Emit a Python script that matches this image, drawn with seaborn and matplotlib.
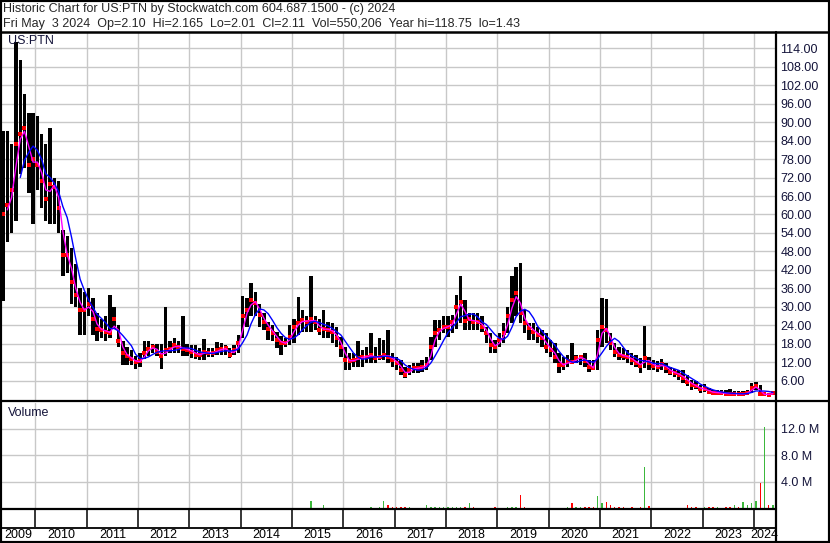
import numpy as np
import pandas as pd
import matplotlib
matplotlib.use('Agg')
import matplotlib.pyplot as plt
import matplotlib.dates as mdates
from matplotlib.lines import Line2D
from matplotlib.patches import Rectangle
import seaborn as sns

# monthly bars, May 2009 .. May 2024
highs = [
    87, 87, 83, 116, 110, 99, 93, 93,                                   # 2009 May-Dec
    92, 86, 83, 88, 72, 71, 55, 53, 49, 44, 36, 35,                     # 2010
    36, 33, 28, 26, 27, 34, 30, 24, 19, 17, 16, 14,                     # 2011
    15, 19, 19, 18, 18, 18, 30, 19, 20, 19, 27, 18,                     # 2012
    17.7, 17.5, 16.6, 19.5, 16.6, 16.6, 18.7, 18.2, 17.5, 16.6, 17.5, 21,  # 2013
    33.5, 33, 37.7, 35, 31, 28, 25, 24, 22, 20.5, 20, 24,               # 2014
    26, 33.3, 29, 27, 40, 27, 26, 29, 25, 24.7, 23.6, 20.4,             # 2015
    17.1, 15, 15, 18.8, 16, 17, 21.7, 17.1, 19.8, 19.3, 22.5, 15,       # 2016
    13.9, 12.8, 10.6, 11.2, 11.7, 11.7, 12.8, 13.9, 20.4, 25.8, 25.8, 26.9,  # 2017
    27, 27.5, 34, 40, 32.3, 27.9, 27.9, 27.9, 26.9, 23.6, 21.5, 19.3,   # 2018
    21.5, 24.7, 30.1, 40, 43.1, 44.4, 29, 24.7, 24.7, 23.6, 22.5, 21.5,  # 2019
    19.3, 18.2, 15, 13.9, 14.5, 18.4, 14.5, 14.5, 15, 12.8, 12.8, 22.5,  # 2020
    33, 32.5, 21.5, 18.2, 17.1, 16.6, 16, 15, 14.5, 13.4, 23.8, 13.9,   # 2021
    12.8, 12.3, 13, 11.7, 10.6, 9.8, 9.6, 9.6, 8, 6.3, 6, 4.7,          # 2022
    5, 3.6, 3.2, 3, 3, 3, 3.3, 2.8, 2.6, 2.6, 3.0, 5.3,                 # 2023
    5.8, 4.7, 2.3, 2.2, 2.165,                                           # 2024 Jan-May
]
lows = [
    32, 51, 54, 58, 73, 75, 67, 57,
    68, 62, 58, 57, 57, 54, 40, 41, 31, 30, 21, 21,
    27, 21, 19, 20, 19, 20, 23, 17, 11, 11, 11, 10,
    10.5, 13, 14, 15, 14, 10, 14, 15, 15, 15, 14, 14,
    13.3, 13, 12.8, 12.8, 13.9, 13.9, 14.5, 14.4, 14.5, 13.3, 14.5, 15,
    20, 23.6, 26.9, 26.9, 23.6, 22.5, 19.3, 18.8, 16.6, 14.4, 17, 17.5,
    18.2, 21, 22, 22, 22, 22.5, 21, 19.8, 19.8, 18.2, 17.1, 13.9,
    9.6, 9.6, 10.6, 10.6, 10.6, 11.7, 11.7, 11.7, 12.8, 12.8, 11.7, 10.6,
    9.6, 7.9, 6.9, 7.9, 8.5, 8.5, 9, 9.6, 12.8, 17.1, 19.3, 21.5,
    20.4, 21.5, 23, 24.7, 22.5, 22.5, 22.5, 22.5, 22, 18.2, 15, 15,
    17.1, 18.2, 21.5, 24.7, 26.9, 24.7, 21.5, 19.3, 19.3, 18.2, 17.1, 15,
    13.9, 11.7, 8.5, 9.6, 10.6, 11.7, 11.7, 11.2, 10.6, 9, 9.6, 9.6,
    17.1, 18.2, 16, 13.9, 12.8, 12.8, 11.7, 11.2, 10.4, 8.5, 10.1, 9.6,
    9.6, 9, 9.6, 8.5, 7.9, 7.2, 6.3, 5.3, 4.2, 3.1, 3.3, 2,
    2.5, 1.8, 1.8, 1.8, 1.6, 1.6, 1.6, 1.2, 1.2, 1.2, 1.4, 2,
    3.1, 1.5, 1.43, 1.45, 2.01,
]
closes = [
    60, 63, 68, 83, 86, 88, 76, 78,
    76, 71, 65, 70, 69, 62, 47, 47, 38, 34, 29, 29,
    31, 26, 23, 22.5, 22, 21.5, 26, 19, 15, 14, 13, 12,
    12.5, 15, 16.5, 17, 15.5, 14, 16, 16.5, 17.5, 17, 16.5, 16,
    15.5, 14.5, 14.4, 15.5, 15, 15, 16, 16.3, 16.6, 14.4, 16, 18.2,
    27, 29, 32.3, 31.2, 27.4, 25.2, 23, 21.5, 19.3, 18.2, 18.2, 20.4,
    23.6, 24.7, 25.8, 25, 26, 25.2, 22.5, 23, 22.5, 22, 19.8, 17.1,
    12.8, 12.3, 12.8, 13.3, 13.9, 13.9, 14.4, 13.3, 13.9, 14.4, 13.9, 12.8,
    11.7, 9.6, 7.9, 9.6, 10.1, 10.1, 10.6, 11.2, 17.1, 21.5, 22.5, 23.6,
    23.6, 25, 30.1, 31.7, 25.5, 26, 25.2, 25.2, 23.6, 21.5, 17.7, 17.1,
    19.3, 21.5, 26.9, 32.3, 34.4, 27.9, 24.7, 23.1, 22, 20.9, 19.8, 17.1,
    16.1, 13.9, 11.2, 11.2, 12.3, 12, 13.4, 13.9, 12.3, 10.4, 10.1, 19.3,
    23.6, 22.5, 18.2, 15.5, 14.4, 14.1, 13.7, 12.8, 11.7, 10.9, 13.4, 11.9,
    10.9, 10.4, 11.5, 10.1, 9, 8.5, 8, 6.9, 5.8, 4.7, 4.2, 3.3,
    3.3, 2.5, 2.2, 2.2, 2, 1.9, 1.8, 1.9, 1.7, 1.8, 2.2, 3.6,
    4.4, 1.6, 1.7, 1.55, 2.11,
]
# peak daily volume in each month, millions
volumes = [
    0.1, 0.1, 0.1, 0.1, 0.1, 0.1, 0.1, 0.1,
    0.1, 0.1, 0.1, 0.1, 0.1, 0.1, 0.1, 0.1, 0.1, 0.1, 0.1, 0.1,
    0.1, 0.1, 0.1, 0.1, 0.1, 0.1, 0.1, 0.1, 0.1, 0.1, 0.1, 0.1,
    0.1, 0.1, 0.1, 0.1, 0.1, 0.1, 0.1, 0.1, 0.1, 0.1, 0.1, 0.1,
    0.1, 0.1, 0.1, 0.1, 0.1, 0.1, 0.1, 0.1, 0.1, 0.1, 0.1, 0.1,
    0.1, 0.1, 0.1, 0.1, 0.1, 0.1, 0.1, 0.1, 0.1, 0.1, 0.1, 0.1,
    0.1, 0.15, 0.1, 0.1, 1.2, 0.1, 0.1, 0.6, 0.1, 0.1, 0.1, 0.1,
    0.1, 0.1, 0.1, 0.1, 0.1, 0.15, 0.2, 0.15, 0.3, 1.2, 0.5, 0.3,
    0.3, 0.2, 0.2, 0.2, 0.15, 0.15, 0.15, 0.5, 0.3, 0.2, 0.2, 0.2,
    0.2, 0.2, 0.3, 0.3, 0.2, 0.9, 0.2, 0.15, 0.15, 0.1, 0.15, 0.2,
    0.1, 0.15, 0.2, 0.2, 0.3, 2.1, 0.3, 0.15, 0.15, 0.1, 0.1, 0.1,
    0.1, 0.1, 0.15, 0.1, 0.3, 0.9, 0.3, 0.2, 0.2, 0.2, 0.3, 1.9,
    0.8, 1.05, 0.5, 0.3, 0.2, 0.2, 0.15, 0.3, 0.15, 0.2, 6.3, 0.4,
    0.15, 0.1, 0.15, 0.1, 0.1, 0.1, 0.1, 0.15, 0.5, 0.3, 0.2, 0.15,
    0.2, 0.3, 0.3, 0.2, 0.15, 0.2, 0.2, 0.6, 0.3, 1.0, 0.5, 0.8,
    1.2, 3.85, 12.2, 0.5, 0.6,
]
price_ticks = list(range(6, 115, 6))
volume_ticks = [4, 8, 12]
years = list(range(2009, 2025))

header1 = 'Historic Chart for US:PTN by Stockwatch.com 604.687.1500 - (c) 2024'
header2 = ('Fri May  3 2024  Op=2.10  Hi=2.165  Lo=2.01  Cl=2.11  '
           'Vol=550,206  Year hi=118.75  lo=1.43')

dates = pd.date_range('2009-05-01', periods=len(highs), freq='MS') + pd.Timedelta(days=14)
df = pd.DataFrame({'date': dates, 'high': highs, 'low': lows,
                   'close': closes, 'volume': volumes})
df['ma_short'] = df['close'].rolling(2).mean()
df['ma_long'] = df['close'].rolling(5).mean()
df['up'] = df['close'].diff().fillna(1) >= 0

sns.set_theme(style='white')
plt.rcParams['font.family'] = ['Liberation Sans', 'DejaVu Sans']

W, H = 830, 543
fig = plt.figure(figsize=(W / 100, H / 100), dpi=100)
fig.patch.set_facecolor('white')


def rect(x0, y0, x1, y1):
    return [x0 / W, 1 - y1 / H, (x1 - x0) / W, (y1 - y0) / H]


def fline(x0, y0, x1, y1, lw):
    fig.add_artist(Line2D([x0 / W, x1 / W], [1 - y0 / H, 1 - y1 / H],
                          transform=fig.transFigure, color='black', lw=lw))


xmin, xmax = pd.Timestamp('2009-05-08'), pd.Timestamp('2024-05-30')
grid_kw = dict(color='#c8c8c8', lw=1.0)
label_color = '#14143a'

# price panel
ax = fig.add_axes(rect(2, 33, 775, 400))
ax.bar(df['date'], df['high'] - df['low'], bottom=df['low'], width=24,
       color='black', linewidth=0, zorder=2)
sns.scatterplot(x=df['date'], y=df['close'], marker='s', s=5, color='red',
                linewidth=0, ax=ax, zorder=3)
sns.lineplot(x=df['date'], y=df['ma_short'], color='#ff00ff', lw=1.0, ax=ax, zorder=4)
sns.lineplot(x=df['date'], y=df['ma_long'], color='#0000ff', lw=1.0, ax=ax, zorder=4)
ax.set_xlim(xmin, xmax)
ax.set_ylim(-0.2, 118.9)
ax.set_yticks(price_ticks)
ax.set_yticklabels([f'{v:.2f}' for v in price_ticks])
ax.yaxis.tick_right()
ax.tick_params(axis='y', length=0, pad=4, labelsize=9, labelcolor=label_color)
ax.xaxis.set_major_locator(mdates.YearLocator())
ax.tick_params(axis='x', length=0, labelbottom=False)
ax.grid(True, **grid_kw)
ax.set_axisbelow(True)
ax.set_xlabel('')
ax.set_ylabel('')
for s in ax.spines.values():
    s.set_visible(False)

# volume panel
axv = fig.add_axes(rect(2, 402.5, 775, 508.5))
vol_colors = np.where(df['up'], '#3cb83c', '#ff0000')
axv.bar(df['date'], df['volume'], width=10, color=vol_colors, linewidth=0, zorder=2)
axv.set_xlim(xmin, xmax)
axv.set_ylim(0, 15.9)
axv.set_yticks(volume_ticks)
axv.set_yticklabels([f'{v:.1f} M' for v in volume_ticks])
axv.yaxis.tick_right()
axv.tick_params(axis='y', length=0, pad=4, labelsize=9, labelcolor=label_color)
axv.xaxis.set_major_locator(mdates.YearLocator())
axv.tick_params(axis='x', length=0, labelbottom=False)
axv.grid(True, **grid_kw)
axv.set_axisbelow(True)
for s in axv.spines.values():
    s.set_visible(False)

# date strip with year separators
axs = fig.add_axes(rect(2, 509, 775, 527))
for y in years[1:]:
    axs.axvline(pd.Timestamp(f'{y}-01-01'), color='black', lw=1.1)
axs.set_xlim(xmin, xmax)
axs.set_xticks([])
axs.set_yticks([])
for s in axs.spines.values():
    s.set_visible(False)

axy = fig.add_axes(rect(2, 528, 775, 541))
axy.set_xlim(xmin, xmax)
axy.set_ylim(0, 1)
for y in years:
    a = max(pd.Timestamp(f'{y}-01-01'), xmin)
    b = min(pd.Timestamp(f'{y + 1}-01-01'), xmax)
    axy.text(a + (b - a) / 2, 0.45, str(y), ha='center', va='center',
             fontsize=9, color='black')
axy.set_xticks([])
axy.set_yticks([])
for s in axy.spines.values():
    s.set_visible(False)

# frame lines
fline(0, 32, W, 32, 1.8)
fline(0, 401.2, W, 401.2, 1.6)
fline(775.5, 32, 775.5, H, 1.6)
fline(0, 509.3, 775.5, 509.3, 1.6)
fline(0, 527.6, 775.5, 527.6, 1.3)
fig.add_artist(Rectangle((0, 0), 1, 1, transform=fig.transFigure, fill=False,
                         ec='black', lw=3))

# texts
fig.text(3 / W, 1 - 9 / H, header1, fontsize=9, va='center', ha='left')
fig.text(3 / W, 1 - 24 / H, header2, fontsize=9, va='center', ha='left')
fig.text(8 / W, 1 - 41 / H, 'US:PTN', fontsize=9, va='center', ha='left',
         color=label_color)
fig.text(8 / W, 1 - 413 / H, 'Volume', fontsize=9, va='center', ha='left',
         color=label_color)

fig.savefig('out.png', dpi=100)
